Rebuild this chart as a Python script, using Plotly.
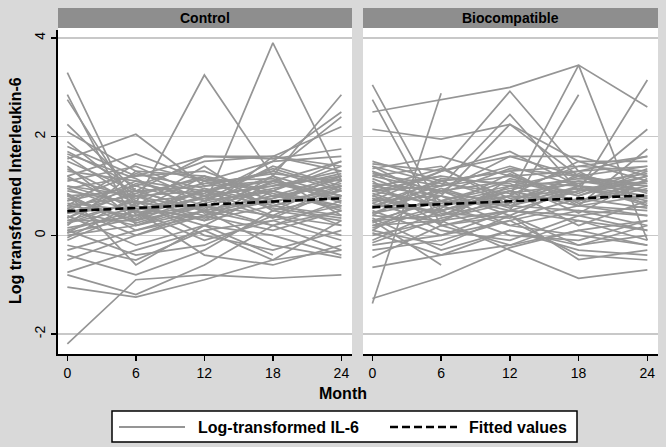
import plotly.graph_objects as go

# ---------------- data ----------------
months = [0, 6, 12, 18, 24]
x_ticks = [0, 6, 12, 18, 24]
y_ticks = [-2, 0, 2, 4]
panel_titles = ["Control", "Biocompatible"]
legend_labels = ["Log-transformed IL-6", "Fitted values"]

ctrl_il6 = [
    [3.30, 0.40, 0.90, 0.60, 1.00],
    [2.85, 0.20, 0.50, 0.80, 1.20],
    [2.75, 0.60, 0.30, 1.10, 0.70],
    [2.25, 0.90, 0.50, None, None],
    [1.55, 2.05, 1.00, 1.10, 0.80],
    [1.20, 1.65, 1.10, 1.50, 1.60],
    [0.90, 0.65, 3.25, 1.20, 0.40],
    [0.50, 0.20, 0.60, 3.90, 1.10],
    [-2.20, -0.90, -0.80, -0.87, -0.80],
    [-1.05, -1.25, -0.90, -0.50, -0.30],
    [-0.80, -1.20, -0.60, 0.20, 0.50],
    [-0.75, -0.30, 0.10, -0.50, 0.30],
    [0.30, 0.70, 0.40, 1.20, 2.85],
    [0.60, 0.40, 0.80, 1.50, 2.50],
    [0.10, 0.50, 0.90, 1.30, 2.40],
    [1.00, 0.80, 0.50, 1.60, 2.20],
    [1.80, 1.20, 1.60, 1.55, 1.75],
    [2.10, 1.30, 0.70, 0.90, 0.60],
    [1.90, 0.80, 1.20, 0.70, 0.90],
    [1.70, 1.00, 1.50, 1.60, 1.40],
    [1.50, 0.90, 1.60, 1.60, 1.30],
    [1.40, 0.30, 0.60, 0.40, 0.20],
    [1.30, 1.10, 0.90, 1.10, 1.50],
    [1.20, 0.50, 1.20, 0.50, 0.80],
    [1.10, 1.40, 0.80, 1.00, 1.20],
    [1.00, 0.60, 0.20, 0.90, 0.50],
    [0.95, 1.20, 1.30, 0.80, 1.00],
    [0.85, 0.10, 0.50, 0.20, -0.30],
    [0.80, 0.90, 1.00, 1.30, 0.90],
    [0.75, 0.30, 1.10, 0.60, 0.40],
    [0.70, 1.00, 0.60, 0.90, 1.40],
    [0.65, 0.50, -0.10, 0.30, 0.60],
    [0.60, 0.80, 0.90, 0.40, 1.00],
    [0.55, 0.00, 0.40, 0.70, 0.20],
    [0.50, 1.10, 0.70, 1.20, 0.80],
    [0.45, 0.60, 1.40, 0.50, 1.10],
    [0.40, -0.20, 0.20, 0.00, -0.40],
    [0.35, 0.90, 0.50, 0.80, 0.60],
    [0.30, 0.30, 0.80, 1.00, 1.30],
    [0.25, 0.70, 0.00, -0.30, 0.10],
    [0.20, 1.30, 1.20, 0.90, 1.50],
    [0.15, 0.40, 0.60, 0.20, 0.70],
    [0.10, -0.40, -0.20, 0.40, 0.00],
    [0.05, 0.80, 0.30, 0.60, 0.90],
    [0.00, 0.20, 0.70, 1.40, 1.00],
    [-0.10, 0.50, -0.40, -0.60, -0.20],
    [-0.20, -0.50, 0.10, 0.30, -0.10],
    [-0.30, 0.10, 0.40, 0.10, 0.50],
    [-0.40, -0.80, -0.30, 0.50, 0.30],
    [-0.50, 0.00, 0.50, -0.20, -0.45],
    [0.55, 0.95, None, None, None],
    [1.60, 0.70, None, None, None],
    [0.85, -0.60, 0.20, -0.40, None],
    [1.15, 0.75, 1.05, 1.25, 1.10],
    [0.95, 0.45, 0.75, 1.05, 0.75],
    [0.70, 1.25, 0.95, 0.65, 1.20],
    [0.45, 0.85, 1.15, 0.85, 0.55],
    [0.25, 0.55, 0.35, 0.75, 1.15],
    [1.35, 0.65, 0.85, 1.35, 0.95],
    [0.05, 0.35, 0.95, 0.55, 0.35],
    [1.65, 1.15, 0.45, 0.75, 1.05],
    [0.60, 1.45, 1.10, 1.15, 0.65],
    [-0.05, 0.65, 0.55, 1.10, 0.80],
    [0.80, 0.25, 0.65, 0.95, 1.25],
    [0.35, 1.05, 0.80, 0.35, 0.95],
]

bio_il6 = [
    [2.50, 2.75, 3.00, 3.45, 2.60],
    [3.05, 0.50, 0.90, 0.60, 0.40],
    [2.75, 0.20, 0.40, 1.00, 0.70],
    [2.15, 1.95, 2.25, 1.20, 1.00],
    [-1.38, 2.88, None, None, None],
    [-1.28, -0.85, -0.25, 0.10, 0.30],
    [0.70, 1.30, 2.92, 1.30, 0.60],
    [0.60, 1.00, 2.45, 0.90, 1.20],
    [1.00, 0.80, 2.25, 1.50, 1.10],
    [0.40, 0.30, 0.50, 2.85, None],
    [0.90, 0.60, 0.80, 3.45, -0.10],
    [0.30, 0.70, 0.60, 0.90, 3.15],
    [1.20, 0.90, 1.10, 1.00, 2.15],
    [0.80, 0.40, 0.90, 0.60, 1.75],
    [0.20, 0.30, -0.30, -0.87, -0.70],
    [0.10, -0.20, 0.40, -0.49, -0.30],
    [1.50, 1.10, 1.30, 1.40, 1.60],
    [1.45, 1.30, 1.60, 1.20, 1.40],
    [1.40, 0.70, 1.00, 1.10, 0.90],
    [1.35, 1.60, 1.20, 0.80, 1.30],
    [1.30, 0.50, 0.80, 1.50, 1.50],
    [1.25, 1.00, 1.40, 1.00, 0.80],
    [1.20, 1.40, 0.60, 0.50, 0.20],
    [1.10, 0.20, 0.50, 0.30, -0.10],
    [1.05, 0.90, 1.60, 1.60, 1.20],
    [1.00, 1.20, 1.00, 0.70, 1.00],
    [0.95, 0.60, 0.20, 0.00, -0.20],
    [0.90, 1.00, 1.20, 1.30, 1.40],
    [0.85, 0.40, 0.70, 1.20, 0.90],
    [0.80, 1.30, 1.70, 1.00, 0.60],
    [0.75, 0.10, -0.10, 0.40, 0.10],
    [0.70, 0.80, 0.50, 0.90, 1.10],
    [0.65, 1.10, 1.30, 0.60, 0.80],
    [0.60, 0.50, 0.90, 1.40, 1.30],
    [0.55, 0.90, 0.40, -0.20, 0.00],
    [0.50, 0.00, 0.30, 0.60, 0.50],
    [0.45, 0.70, 1.10, 0.80, 1.20],
    [0.40, 1.10, 0.70, 1.10, 1.00],
    [0.35, -0.30, 0.10, -0.30, -0.40],
    [0.30, 0.40, 1.00, 1.30, 1.60],
    [0.25, 0.80, 0.20, 0.50, 0.40],
    [0.20, 0.60, 0.90, 0.20, 0.70],
    [0.10, 0.90, 0.60, 1.00, 0.90],
    [0.05, -0.40, -0.20, 0.10, -0.20],
    [0.00, 0.30, 0.80, 0.70, 1.10],
    [-0.10, 0.50, 0.00, -0.10, 0.30],
    [-0.20, 0.00, 0.50, 0.40, 0.60],
    [-0.30, -0.10, 0.30, -0.40, -0.50],
    [-0.45, 0.20, -0.20, 0.30, 0.10],
    [-0.65, -0.40, 0.10, -0.20, 0.20],
    [0.90, 1.20, None, None, None],
    [0.30, -0.60, None, None, None],
    [1.15, 0.65, 0.95, 1.15, 1.05],
    [0.95, 1.35, 0.75, 0.95, 0.65],
    [0.65, 0.25, 1.15, 0.85, 1.35],
    [0.45, 0.95, 0.55, 1.25, 0.85],
    [0.15, 0.55, 1.25, 0.65, 0.95],
    [1.40, 1.05, 0.85, 1.05, 1.25],
    [0.75, 0.45, 0.35, 0.75, 0.55],
    [0.55, 1.15, 1.05, 0.45, 1.15],
    [-0.15, 0.35, 0.65, 0.95, 0.75],
    [1.30, 0.85, 1.35, 1.20, 0.75],
]

ctrl_fit = [0.49, 0.555, 0.62, 0.685, 0.75]
bio_fit = [0.57, 0.63, 0.69, 0.75, 0.81]

# ---------------- styling ----------------
W, H = 666, 447
BG = "#d9d9d9"
STRIP = "#8e8e8e"
LINE_GREY = "#959595"
GRID = "#c8c8c8"
FONT = "Liberation Sans, Arial, sans-serif"


def px(x):
    return x / W


def py(y):
    return 1 - y / H


fig = go.Figure()


def spaghetti(series, xa, ya):
    xs, ys = [], []
    for s in series:
        xs += months + [None]
        ys += s + [None]
    return go.Scatter(x=xs, y=ys, mode="lines", xaxis=xa, yaxis=ya,
                      line=dict(color=LINE_GREY, width=1.7),
                      connectgaps=False, showlegend=False, hoverinfo="skip")


fig.add_trace(spaghetti(ctrl_il6, "x", "y"))
fig.add_trace(spaghetti(bio_il6, "x2", "y2"))
fig.add_trace(go.Scatter(x=months, y=ctrl_fit, mode="lines", xaxis="x", yaxis="y",
                         line=dict(color="black", width=2.6, dash="8px,4px"),
                         showlegend=False, hoverinfo="skip"))
fig.add_trace(go.Scatter(x=months, y=bio_fit, mode="lines", xaxis="x2", yaxis="y2",
                         line=dict(color="black", width=2.6, dash="8px,4px"),
                         showlegend=False, hoverinfo="skip"))

yr = [-2.405, 4.162]
xr = [-0.82, 24.93]
ydom = [py(354), py(30)]

xcommon = dict(range=xr, tickvals=x_ticks, ticktext=[str(t) for t in x_ticks],
               ticks="outside", ticklen=5, tickwidth=1.5, tickcolor="black",
               showline=True, linecolor="black", linewidth=2, showgrid=False,
               zeroline=False, tickfont=dict(family=FONT, size=14, color="black"),
               fixedrange=True)

fig.update_layout(
    width=W, height=H, autosize=False,
    margin=dict(l=0, r=0, t=0, b=0),
    paper_bgcolor=BG, plot_bgcolor="white",
    font=dict(family=FONT, color="black"),
    showlegend=False,
    xaxis=dict(domain=[px(58), px(352)], anchor="y", **xcommon),
    xaxis2=dict(domain=[px(363), px(658)], anchor="y2", **xcommon),
    yaxis=dict(domain=ydom, range=yr, tickvals=y_ticks,
               ticktext=[str(t) for t in y_ticks], tickangle=-90,
               ticks="outside", ticklen=5, tickwidth=1.5, tickcolor="black",
               showline=True, linecolor="black", linewidth=2,
               showgrid=True, gridcolor=GRID, gridwidth=1.2, zeroline=False,
               tickfont=dict(family=FONT, size=14, color="black"), anchor="x",
               fixedrange=True),
    yaxis2=dict(domain=ydom, range=yr, tickvals=y_ticks, showticklabels=False,
                ticks="", showline=False, showgrid=True, gridcolor=GRID,
                gridwidth=1.2, zeroline=False, anchor="x2", matches="y",
                fixedrange=True),
)

shapes = []
annotations = []
# strips
for (x0, x1), title in zip([(58, 352), (363, 658)], panel_titles):
    shapes.append(dict(type="rect", xref="paper", yref="paper",
                       x0=px(x0), x1=px(x1), y0=py(28), y1=py(8),
                       fillcolor=STRIP, line=dict(width=0), layer="below"))
    shapes.append(dict(type="rect", xref="paper", yref="paper",
                       x0=px(x0), x1=px(x1), y0=py(30), y1=py(28),
                       fillcolor="white", line=dict(width=0), layer="below"))
    annotations.append(dict(text="<b>%s</b>" % title, xref="paper", yref="paper",
                            x=(px(x0) + px(x1)) / 2, y=py(18), showarrow=False,
                            xanchor="center", yanchor="middle",
                            font=dict(family=FONT, size=14, color="black")))

# axis titles
annotations.append(dict(text="<b>Month</b>", xref="paper", yref="paper",
                        x=px(343), y=py(393), showarrow=False,
                        xanchor="center", yanchor="middle",
                        font=dict(family=FONT, size=16, color="black")))
annotations.append(dict(text="<b>Log transformed Interleukin-6</b>", xref="paper",
                        yref="paper", x=px(15), y=py(191), showarrow=False,
                        textangle=-90, xanchor="center", yanchor="middle",
                        font=dict(family=FONT, size=16, color="black")))

# legend box
shapes.append(dict(type="rect", xref="paper", yref="paper",
                   x0=px(112), x1=px(577), y0=py(442), y1=py(411),
                   fillcolor="white", line=dict(color="black", width=1.5)))
shapes.append(dict(type="line", xref="paper", yref="paper",
                   x0=px(119), x1=px(185), y0=py(427), y1=py(427),
                   line=dict(color=LINE_GREY, width=1.8)))
shapes.append(dict(type="line", xref="paper", yref="paper",
                   x0=px(390), x1=px(457), y0=py(427), y1=py(427),
                   line=dict(color="black", width=2.6, dash="8px,4px")))
annotations.append(dict(text="<b>%s</b>" % legend_labels[0], xref="paper", yref="paper",
                        x=px(196), y=py(427), showarrow=False,
                        xanchor="left", yanchor="middle",
                        font=dict(family=FONT, size=16, color="black")))
annotations.append(dict(text="<b>%s</b>" % legend_labels[1], xref="paper", yref="paper",
                        x=px(467), y=py(427), showarrow=False,
                        xanchor="left", yanchor="middle",
                        font=dict(family=FONT, size=16, color="black")))

fig.update_layout(shapes=shapes, annotations=annotations)

fig.write_html(
    "out.html",
    config={"displayModeBar": False, "staticPlot": True},
    post_script="document.body.style.margin='0';document.body.style.padding='0';"
                "document.body.style.background='%s';"
                "document.documentElement.style.overflow='hidden';" % BG,
)
